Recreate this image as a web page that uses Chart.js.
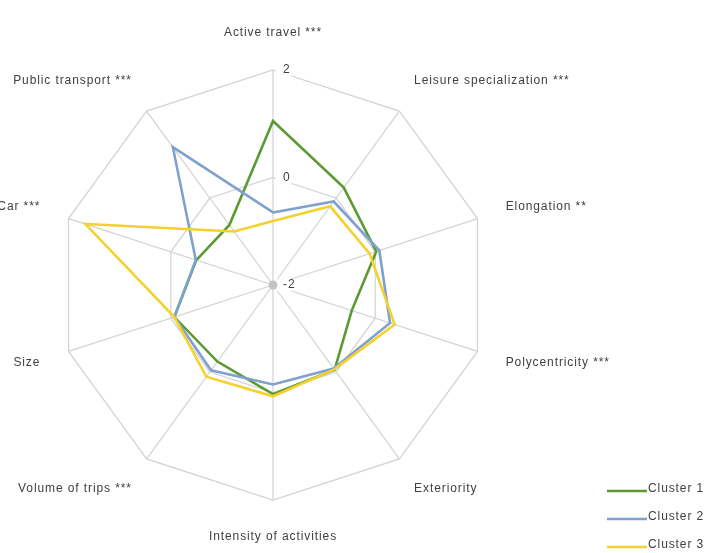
<!DOCTYPE html>
<html>
<head>
<meta charset="utf-8">
<title>Cluster profiles</title>
<script src="https://cdn.jsdelivr.net/npm/chart.js@4/dist/chart.umd.min.js"></script>
<style>
  html, body { margin: 0; padding: 0; background: #ffffff; }
  #wrap { position: relative; width: 721px; height: 553px; }
</style>
</head>
<body>
<div id="wrap"><canvas id="radar"></canvas></div>
<script>
// Axes of the radar, clockwise from the top
const categories = [
  'Active travel ***',
  'Leisure specialization ***',
  'Elongation **',
  'Polycentricity ***',
  'Exteriority',
  'Intensity of activities',
  'Volume of trips ***',
  'Size',
  'Car ***',
  'Public transport ***'
];

// Standardised scores per cluster
const cluster1 = [1.05, 0.24, 0.02, -0.46, -0.05, 0.03, -0.24, -0.07, -0.50, -0.62];
const cluster2 = [-0.65, -0.08, 0.08, 0.29, -0.08, -0.15, -0.04, -0.07, -0.49, 1.17];
const cluster3 = [-0.81, -0.19, -0.11, 0.38, -0.06, 0.07, 0.11, -0.07, 1.67, -0.77];

const seriesNames = ['Cluster 1', 'Cluster 2', 'Cluster 3'];
const seriesColors = ['#5b9a32', '#7fa1cf', '#f5d12e'];

// Radial scale range and labelled ticks
const scaleMin = -2;
const scaleMax = 2;
const tickValues = [-2, 0, 2];

const FONT = '12px "Liberation Sans", Arial, sans-serif';
const TEXT_COLOR = '#404040';
const GRID_COLOR = '#d2d2d2';

function withSpacing(ctx) {
  try { ctx.letterSpacing = '0.9px'; } catch (e) {}
}

// Axis names placed just outside the outer polygon
const axisLabelPlugin = {
  id: 'axisLabels',
  afterDraw(chart) {
    const scale = chart.scales.r;
    const ctx = chart.ctx;
    ctx.save();
    ctx.font = FONT;
    withSpacing(ctx);
    ctx.fillStyle = TEXT_COLOR;
    ctx.textBaseline = 'middle';
    chart.data.labels.forEach((label, i) => {
      const p = scale.getPointPosition(i, scale.drawingArea + 37);
      let x = p.x;
      if (p.x > scale.xCenter + 1) { ctx.textAlign = 'left'; x -= 7; }
      else if (p.x < scale.xCenter - 1) { ctx.textAlign = 'right'; x += 7; }
      else { ctx.textAlign = 'center'; }
      ctx.fillText(label, x, p.y);
    });
    ctx.restore();
  }
};

// Tick values beside the vertical axis, plus the hub marker
const tickLabelPlugin = {
  id: 'tickLabels',
  beforeDatasetsDraw(chart) {
    const scale = chart.scales.r;
    const ctx = chart.ctx;
    ctx.save();
    ctx.font = FONT;
    withSpacing(ctx);
    ctx.textBaseline = 'middle';
    ctx.textAlign = 'left';
    tickValues.forEach(v => {
      const y = scale.yCenter - scale.getDistanceFromCenterForValue(v);
      const text = String(v);
      const w = ctx.measureText(text).width;
      const x = scale.xCenter + 10;
      ctx.fillStyle = '#ffffff';
      ctx.fillRect(scale.xCenter + 3, y - 6, x - scale.xCenter - 3 + w + 2, 12);
      ctx.fillStyle = TEXT_COLOR;
      ctx.fillText(text, x, y);
    });
    ctx.fillStyle = '#c4c4c4';
    ctx.beginPath();
    ctx.arc(scale.xCenter, scale.yCenter, 4.5, 0, Math.PI * 2);
    ctx.fill();
    ctx.restore();
  }
};

// Legend in the lower right corner
const legendPlugin = {
  id: 'cornerLegend',
  afterDraw(chart) {
    const ctx = chart.ctx;
    ctx.save();
    ctx.font = FONT;
    withSpacing(ctx);
    ctx.textBaseline = 'middle';
    ctx.textAlign = 'left';
    const x0 = 607, y0 = 489, step = 28;
    seriesNames.forEach((name, i) => {
      const y = y0 + i * step;
      ctx.strokeStyle = seriesColors[i];
      ctx.lineWidth = 2.6;
      ctx.beginPath();
      ctx.moveTo(x0, y + 2);
      ctx.lineTo(x0 + 40, y + 2);
      ctx.stroke();
      ctx.fillStyle = TEXT_COLOR;
      ctx.fillText(name, x0 + 41, y);
    });
    ctx.restore();
  }
};

const seriesData = [cluster1, cluster2, cluster3];

new Chart(document.getElementById('radar'), {
  type: 'radar',
  data: {
    labels: categories,
    datasets: seriesData.map((values, i) => ({
      label: seriesNames[i],
      data: values,
      borderColor: seriesColors[i],
      backgroundColor: 'rgba(0,0,0,0)',
      borderWidth: 2.6,
      fill: false,
      tension: 0,
      pointRadius: 0,
      pointHoverRadius: 0,
      order: seriesData.length - i
    }))
  },
  options: {
    responsive: true,
    maintainAspectRatio: false,
    animation: false,
    events: [],
    layout: { padding: { left: 58, top: 70, right: 233, bottom: 53 } },
    plugins: {
      legend: { display: false },
      tooltip: { enabled: false }
    },
    elements: { line: { borderJoinStyle: 'miter' } },
    scales: {
      r: {
        min: scaleMin,
        max: scaleMax,
        startAngle: 0,
        ticks: { stepSize: 2, display: false },
        grid: { color: GRID_COLOR, lineWidth: 1.2 },
        angleLines: { color: GRID_COLOR, lineWidth: 1.2 },
        pointLabels: { display: false }
      }
    }
  },
  plugins: [tickLabelPlugin, axisLabelPlugin, legendPlugin]
});
</script>
</body>
</html>
